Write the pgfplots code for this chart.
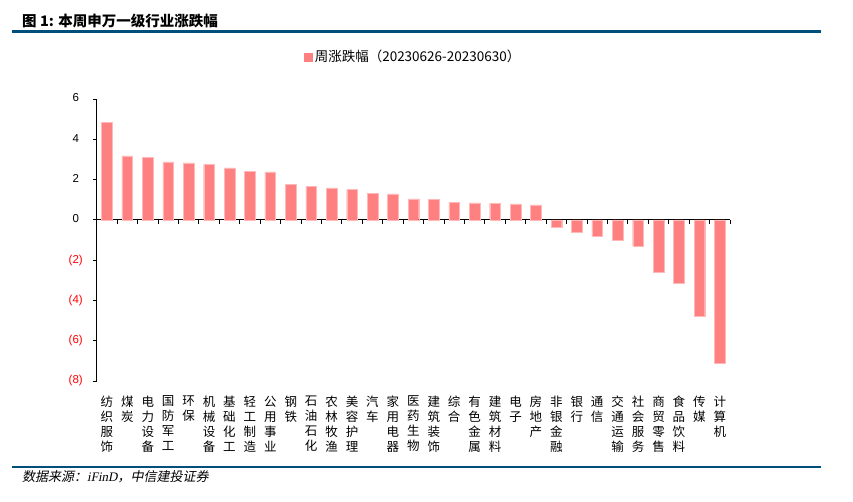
\documentclass[border=0pt]{standalone}
\usepackage{pgfplots}
\pgfplotsset{compat=1.18}
\usepackage{fontspec}
\setmainfont{Liberation Sans}
\newfontfamily\cjk{Noto Sans CJK SC}
\newfontfamily\cjkit[FakeSlant=0.2]{Noto Sans CJK SC}
\newfontfamily\serifit[FakeSlant=0.2]{Liberation Serif}
\definecolor{barpink}{RGB}{255,128,128}
\definecolor{baredge}{RGB}{255,185,185}
\definecolor{titleblue}{RGB}{0,78,124}
\definecolor{negred}{RGB}{255,0,0}
\begin{document}
\begin{tikzpicture}
\useasboundingbox (0pt,0pt) rectangle (853pt,502pt);
% title
\node[anchor=west,inner sep=0pt] at (22pt,481.5pt) {\cjk\bfseries\fontsize{14.5}{16}\selectfont 图 1: 本周申万一级行业涨跌幅};
\draw[titleblue,line width=2.4pt] (12pt,470.5pt) -- (821pt,470.5pt);
% footer
\draw[titleblue,line width=2.4pt] (12pt,35pt) -- (821pt,35pt);
\node[anchor=west,inner sep=0pt] at (22pt,25pt) {\cjkit\fontsize{13}{15}\selectfont 数据来源：{\serifit iFinD}，中信建投证券};
\begin{axis}[
  at={(96.7pt,121pt)}, anchor=south west,
  scale only axis, width=633.3pt, height=282pt,
  xmin=-0.5, xmax=30.5, ymin=-8, ymax=6,
  axis x line=middle, axis y line=left,
  axis line style={-, black, line width=0.9pt},
  hide obscured x ticks=false, hide obscured y ticks=false,
  clip=false,
  xtick={0,...,30},
  minor xtick={-0.5,0.5,...,30.5},
  major x tick style={draw=none},
  minor x tick style={black, line width=0.9pt},
  y tick style={black, line width=0.9pt},
  tick align=outside,
  major tick length=4pt, minor tick length=4pt,
  ytick={-8,-6,-4,-2,0,2,4,6},
  yticklabels={\textcolor{negred}{(8)},\textcolor{negred}{(6)},\textcolor{negred}{(4)},\textcolor{negred}{(2)},0\phantom{)},2\phantom{)},4\phantom{)},6\phantom{)}},
  yticklabel style={anchor=east, inner sep=0pt, xshift=-9.7pt, font=\fontsize{11.5}{13}\selectfont},
  xticklabels={{纺\\织\\服\\饰},{煤\\炭},{电\\力\\设\\备},{国\\防\\军\\工},{环\\保},{机\\械\\设\\备},{基\\础\\化\\工},{轻\\工\\制\\造},{公\\用\\事\\业},{钢\\铁},{石\\油\\石\\化},{农\\林\\牧\\渔},{美\\容\\护\\理},{汽\\车},{家\\用\\电\\器},{医\\药\\生\\物},{建\\筑\\装\\饰},{综\\合},{有\\色\\金\\属},{建\\筑\\材\\料},{电\\子},{房\\地\\产},{非\\银\\金\\融},{银\\行},{通\\信},{交\\通\\运\\输},{社\\会\\服\\务},{商\\贸\\零\\售},{食\\品\\饮\\料},{传\\媒},{计\\算\\机}},
  xticklabel style={anchor=north, inner sep=0pt, yshift=-172pt, align=center, font=\cjk\fontsize{12.5}{15}\selectfont},
  legend style={draw=none, fill=none, at={(0.5,1.149)}, anchor=center, font=\cjk\fontsize{13.5}{15}\selectfont, inner sep=0pt, nodes={inner sep=2pt}},
]
\addplot[ybar, bar width=10.7pt, fill=barpink, draw=baredge, line width=0.4pt,
  legend image code/.code={\fill[barpink] (0pt,-4pt) rectangle (8pt,4pt);}]
  coordinates {
  (0,4.83) (1,3.17) (2,3.12) (3,2.88) (4,2.83) (5,2.76) (6,2.58) (7,2.41) (8,2.38)
  (9,1.77) (10,1.67) (11,1.59) (12,1.50) (13,1.31) (14,1.29) (15,1.04) (16,1.02)
  (17,0.88) (18,0.84) (19,0.83) (20,0.79) (21,0.74) (22,-0.38) (23,-0.63) (24,-0.83)
  (25,-1.01) (26,-1.31) (27,-2.61) (28,-3.14) (29,-4.79) (30,-7.11)
  };
\addlegendentry{周涨跌幅（20230626-20230630）}
\end{axis}
\end{tikzpicture}
\end{document}
